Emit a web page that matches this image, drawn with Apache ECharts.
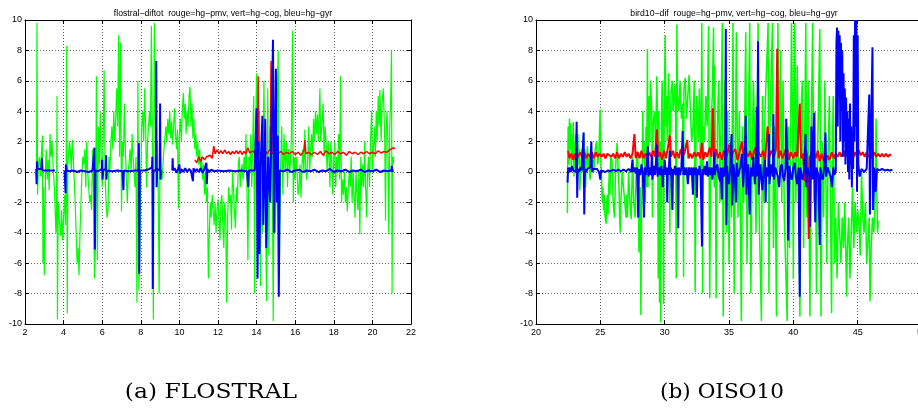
<!DOCTYPE html>
<html><head><meta charset="utf-8">
<script src="https://cdn.jsdelivr.net/npm/echarts/dist/echarts.min.js"></script>
<style>html,body{margin:0;padding:0;background:#fff}#c{width:918px;height:409px}</style>
</head><body><div id="c"></div><script>
// ---------- DATA (x = position, y = difference) ----------
const titleA = 'flostral\u2212diftot  rouge=hg\u2212pmv, vert=hg\u2212cog, bleu=hg\u2212gyr';
const titleB = 'bird10\u2212dif  rouge=hg\u2212pmv, vert=hg\u2212cog, bleu=hg\u2212gyr';
const captionA = '(a) FLOSTRAL';
const captionB = '(b) OISO10';
const xTicksA = [2, 22, 2];
const xTicksB = [20, 50, 5];
const yTicks = [-10, 10, 2];

const flostralGreen = [[2.6,0.7],[2.62,9.8],[2.65,-1.5],[2.7,0.5],[2.75,1.0],[2.8,-0.3],[2.85,1.2],[2.9,2.4],[2.93,-6.0],[2.97,-1],[3.0,-6.8],[3.03,-4],[3.07,0.5],[3.1,1.5],[3.15,-0.5],[3.2,0.8],[3.25,-1.2],[3.3,2.5],[3.35,1.0],[3.4,2.0],[3.45,0.5],[3.5,-0.5],[3.55,-2],[3.6,-4],[3.63,-2.5],[3.66,5.0],[3.68,-9.7],[3.72,-2],[3.78,-3.2],[3.85,-4.2],[3.9,-2.5],[3.95,-4.5],[4.0,-3],[4.05,-1.5],[4.1,-3.5],[4.13,-0.5],[4.16,8.3],[4.19,-9.3],[4.22,0.5],[4.3,2],[4.35,1.5],[4.4,0],[4.45,2.1],[4.5,1],[4.55,-0.5],[4.6,-2],[4.65,-4],[4.7,-6],[4.75,-5],[4.8,-6.8],[4.85,-4],[4.9,-2],[4.95,0],[5.0,1],[5.05,0.5],[5.1,1.5],[5.15,-1],[5.2,2],[5.25,0],[5.3,-1],[5.35,-2],[5.4,-1.5],[5.45,-2.5],[5.5,1.5],[5.55,-1],[5.6,-7],[5.65,-5],[5.7,6.3],[5.75,-5.8],[5.8,3],[5.85,0.5],[5.9,4],[5.95,1],[6.0,-1],[6.05,2],[6.1,6.7],[6.15,0],[6.2,-2],[6.25,-3],[6.3,-2.5],[6.35,1],[6.4,0],[6.45,2],[6.5,3],[6.55,1.5],[6.6,4],[6.65,2],[6.7,3.5],[6.75,5.5],[6.8,3],[6.85,9],[6.9,1],[6.95,8.5],[7.0,-2.6],[7.05,2],[7.1,1],[7.15,4.5],[7.2,1.5],[7.3,-2],[7.35,0],[7.45,1.5],[7.5,0],[7.55,2.5],[7.6,1],[7.7,-1],[7.75,1],[7.8,-8.6],[7.85,6],[7.9,-7.8],[7.95,-5],[8.0,0],[8.05,3],[8.1,4],[8.15,2],[8.2,5.5],[8.25,3],[8.3,-1],[8.35,2],[8.45,4],[8.5,3],[8.55,9.6],[8.6,2],[8.65,-9.7],[8.7,9.8],[8.75,4],[8.8,0],[8.85,2],[8.9,-1],[8.95,-8],[9.0,2],[9.05,0],[9.1,-0.5],[9.2,1.5],[9.3,3],[9.35,2],[9.4,3.5],[9.45,2.5],[9.5,4],[9.55,2.2],[9.6,3.3],[9.65,1.8],[9.7,3],[9.75,4.2],[9.8,2.5],[9.85,1.5],[9.9,2.8],[9.95,-2.4],[10.0,2.5],[10.05,3.5],[10.1,2],[10.15,4],[10.2,5.2],[10.25,3.5],[10.3,4.5],[10.35,2.5],[10.4,4],[10.45,3],[10.5,5],[10.55,5.6],[10.6,3],[10.65,4.5],[10.7,2.2],[10.75,3.5],[10.8,1.5],[10.85,2.5],[10.9,1],[10.95,2],[11.0,0.5],[11.05,1.5],[11.1,0],[11.15,1],[11.2,-0.5],[11.25,0.5],[11.3,-1.5],[11.35,0],[11.4,-2],[11.45,-1],[11.5,-7],[11.55,-4],[11.6,-2],[11.65,-3],[11.7,-1.5],[11.75,-2.5],[11.8,-3.5],[11.85,-2],[11.9,-4],[11.95,-2.5],[12.0,-1.8],[12.05,-3],[12.1,-4.5],[12.15,-2],[12.2,-1.5],[12.25,-3.5],[12.3,-5],[12.35,-2],[12.4,-3],[12.45,-8.6],[12.5,-3],[12.55,-1],[12.6,-2],[12.65,-1.5],[12.7,-3.8],[12.75,0],[12.8,-1],[12.85,-2.5],[12.9,-3.7],[12.95,-1],[13.0,-2],[13.05,0.5],[13.1,1],[13.15,-1],[13.2,0],[13.25,0.5],[13.3,-0.5],[13.35,1],[13.4,0],[13.45,2.5],[13.5,-1],[13.55,-5.8],[13.6,1],[13.65,0],[13.7,2.5],[13.75,-1],[13.8,2],[13.85,5],[13.9,-8],[13.95,3],[14.0,6.5],[14.05,0],[14.1,-3],[14.15,4],[14.2,-7.5],[14.25,2],[14.3,-4],[14.38,6],[14.45,-2],[14.52,-8.5],[14.58,5.5],[14.63,-5.5],[14.7,3],[14.73,-2],[14.78,7],[14.86,-9.8],[14.92,2],[14.98,-4],[15.05,4],[15.12,8],[15.18,-6],[15.24,0],[15.3,3],[15.36,-1.5],[15.42,2.5],[15.48,0],[15.55,2],[15.6,-1],[15.65,1.5],[15.72,0],[15.8,2],[15.86,9.3],[15.9,-2],[15.95,1],[16.0,-0.5],[16.05,1],[16.1,0],[16.15,-1.5],[16.2,-1],[16.25,0.5],[16.3,-1.7],[16.35,0.5],[16.4,1.5],[16.45,0],[16.5,2.8],[16.55,0],[16.6,-0.5],[16.65,1],[16.7,3],[16.75,0],[16.8,1.5],[16.85,2.5],[16.9,1],[16.95,3.5],[17.0,2],[17.05,4],[17.1,2.5],[17.15,3.8],[17.2,2],[17.28,5.5],[17.32,2],[17.38,3],[17.45,4.5],[17.5,1],[17.55,3],[17.6,2],[17.65,0],[17.7,2],[17.75,1],[17.8,-1],[17.85,2],[17.9,0.5],[17.95,-1.5],[18.0,1],[18.05,2],[18.1,-1],[18.15,1],[18.2,0],[18.25,2.5],[18.3,-0.5],[18.35,6.3],[18.4,-2],[18.45,-0.5],[18.5,-1.5],[18.55,0],[18.6,-2],[18.65,-1],[18.7,-2.6],[18.75,-1],[18.8,0],[18.85,-1],[18.9,1],[18.95,-2],[19.0,0],[19.05,-1.5],[19.1,-3],[19.15,0],[19.2,-1.5],[19.25,-2.5],[19.3,0],[19.35,-4.1],[19.4,1],[19.45,-1],[19.5,0.5],[19.55,-1],[19.6,2],[19.65,-1],[19.7,-3],[19.75,0],[19.8,1],[19.85,-1],[19.9,2],[19.96,4],[20.0,0],[20.05,1.5],[20.1,3],[20.15,1],[20.2,4],[20.25,2],[20.3,5],[20.35,3],[20.39,5.4],[20.45,2],[20.5,4.5],[20.56,5.5],[20.6,4],[20.64,2],[20.68,-3.2],[20.72,3],[20.76,4],[20.8,2],[20.85,-4.1],[20.9,3],[20.95,5],[20.99,8],[21.02,-8],[21.05,1],[21.08,0.5],[21.1,1]];

const flostralRed = [[10.8,0.8],[10.9,0.6],[11.0,1.0],[11.1,0.7],[11.2,1.0],[11.3,0.8],[11.4,1.0],[11.5,0.9],[11.6,1.1],[11.7,0.9],[11.78,1.7],[11.85,1.2],[11.95,1.45],[12.05,1.2],[12.15,1.4],[12.25,1.2],[12.35,1.45],[12.45,1.2],[12.55,1.35],[12.65,1.15],[12.75,1.35],[12.85,1.2],[12.95,1.4],[13.05,1.2],[13.15,1.4],[13.25,1.15],[13.35,1.35],[13.45,1.2],[13.55,1.6],[13.65,1.25],[13.8,1.4],[13.95,1.2],[14.05,1.4],[14.08,6.3],[14.12,1.3],[14.25,1.2],[14.4,1.45],[14.55,1.2],[14.7,1.5],[14.75,7.3],[14.8,1.2],[14.95,1.4],[15.1,1.2],[15.25,1.35],[15.4,1.15],[15.55,1.3],[15.7,1.2],[15.85,1.35],[16.0,1.15],[16.15,1.3],[16.3,1.1],[16.45,1.4],[16.5,2.1],[16.55,1.2],[16.7,1.3],[16.85,1.15],[17.0,1.3],[17.15,1.15],[17.3,1.35],[17.45,1.1],[17.6,1.4],[17.75,1.2],[17.9,1.3],[18.05,1.15],[18.2,1.35],[18.35,1.2],[18.5,1.3],[18.65,1.1],[18.8,1.35],[18.95,1.2],[19.1,1.3],[19.25,1.15],[19.4,1.3],[19.55,1.2],[19.7,1.35],[19.85,1.2],[20.0,1.3],[20.15,1.2],[20.3,1.4],[20.45,1.25],[20.6,1.35],[20.75,1.3],[20.9,1.45],[21.0,1.4],[21.1,1.6],[21.15,1.5]];

const flostralBlue = [[2.58,0.2],[2.6,-0.8],[2.62,0.7],[2.65,0.2],[2.75,0.1],[2.85,0.2],[2.88,0.9],[2.9,0.1],[3.0,0.2],[3.1,0.1],[3.2,0.15],[3.3,0.1],[3.4,0.15],[3.55,0.1],[3.56,null],[4.05,0.1],[4.1,-1.4],[4.12,0.5],[4.15,0.1],[4.3,0.05],[4.5,0.1],[4.7,0.0],[4.9,0.1],[5.1,0.05],[5.3,0.0],[5.5,0.1],[5.58,0.2],[5.6,1.6],[5.62,-5.1],[5.65,0.1],[5.8,0.05],[5.98,0.2],[6.0,0.8],[6.02,-0.5],[6.05,0.1],[6.18,0.2],[6.2,1.1],[6.22,-0.5],[6.25,0.1],[6.5,0.05],[6.8,0.1],[7.05,0.05],[7.1,-1.2],[7.12,0.1],[7.4,0.05],[7.7,0.1],[7.88,0.1],[7.9,1.9],[7.92,-6.7],[7.95,0.1],[8.2,0.1],[8.45,0.2],[8.58,0.3],[8.6,1.0],[8.62,-7.7],[8.65,0.1],[8.78,0.1],[8.8,7.3],[8.82,-1.0],[8.85,0.2],[8.98,0.1],[9.0,4.5],[9.02,-0.5],[9.05,0.1],[9.06,null],[9.63,0.1],[9.65,0.9],[9.67,0.1],[9.75,0.25],[9.85,-0.05],[9.95,0.25],[10.0,0.5],[10.03,-0.1],[10.1,0.2],[10.2,0.0],[10.3,0.25],[10.4,0.0],[10.5,0.2],[10.6,0.05],[10.7,-0.6],[10.73,0.25],[10.8,0.0],[10.9,0.2],[11.0,0.0],[11.1,0.25],[11.2,-0.05],[11.3,0.2],[11.4,0.6],[11.42,-0.8],[11.45,0.2],[11.55,0.0],[11.65,0.15],[11.8,0.05],[12.0,0.1],[12.3,0.05],[12.6,0.1],[12.9,0.05],[13.2,0.1],[13.5,0.05],[13.57,-1.0],[13.6,0.1],[13.9,0.1],[14.0,4.2],[14.05,-7.0],[14.1,2],[14.15,-5.4],[14.2,0],[14.3,3.7],[14.35,-3.5],[14.45,3.5],[14.5,-5],[14.6,1],[14.7,-2],[14.85,8.7],[14.9,-4],[15.0,6.8],[15.05,-2],[15.1,2.4],[15.15,-8.2],[15.2,0.1],[15.4,0.05],[15.6,0.15],[15.8,0.0],[16.0,0.1],[16.2,0.15],[16.4,0.0],[16.6,0.1],[16.8,0.05],[17.0,0.15],[17.2,0.0],[17.4,0.1],[17.6,0.05],[17.8,0.2],[18.0,0.0],[18.2,0.1],[18.4,0.05],[18.6,0.15],[18.8,0.0],[19.0,0.1],[19.2,0.05],[19.4,0.15],[19.6,0.0],[19.8,0.1],[20.0,0.05],[20.2,0.15],[20.4,0.0],[20.6,0.1],[20.8,0.05],[20.98,0.1],[21.0,0.4],[21.02,0.05],[21.1,0.1]];

const oisoGreen = [[22.44,-2.7],[22.47,1],[22.5,3],[22.55,0.5],[22.6,3.5],[22.65,1.5],[22.7,3.2],[22.75,0],[22.8,2.5],[22.85,1],[22.9,3.3],[22.95,-0.3],[23.0,2],[23.05,0.5],[23.1,2.5],[23.15,-0.5],[23.2,1],[23.25,2.5],[23.3,0.5],[23.35,1.5],[23.4,-1.2],[23.5,0.5],[23.55,1.5],[23.6,0],[23.7,2.6],[23.75,0],[23.8,1.5],[23.85,-1],[23.9,0.5],[24.0,1.7],[24.05,0.2],[24.1,1],[24.2,-0.5],[24.3,0.5],[24.4,1.2],[24.5,0],[24.6,1.5],[24.7,2],[24.8,0.5],[24.9,1.5],[24.98,4.1],[25.05,0.5],[25.1,-0.5],[25.15,-2],[25.2,-1],[25.25,-2.5],[25.3,-1.5],[25.35,-2.8],[25.45,-3.4],[25.5,-2],[25.55,-1.5],[25.6,-2.8],[25.65,-1],[25.7,0],[25.75,-1.5],[25.8,1],[25.9,0.8],[26.0,-2],[26.1,-3],[26.2,0.5],[26.3,1.9],[26.4,2],[26.45,-1],[26.5,-3],[26.55,-4],[26.6,-2],[26.7,0],[26.8,-1],[26.9,-2],[27.0,-3],[27.05,-1.5],[27.1,-3],[27.2,0],[27.3,-2],[27.4,-3.1],[27.5,1],[27.6,-2],[27.7,-3],[27.8,0.5],[27.9,1.4],[27.95,-1],[28.0,-5.3],[28.05,-3],[28.1,-1],[28.15,-9.4],[28.2,-3],[28.25,-1],[28.3,4],[28.35,1],[28.4,2],[28.5,-2],[28.55,3],[28.6,-1],[28.66,8.1],[28.7,-1],[28.75,3.5],[28.8,5],[28.85,2],[28.9,6],[29.0,4],[29.05,-3],[29.1,3],[29.2,4],[29.3,2],[29.39,6.3],[29.45,3],[29.5,-7],[29.55,4],[29.6,-8.6],[29.65,2],[29.7,-9.9],[29.75,3],[29.8,6],[29.85,4],[29.91,-8.7],[29.95,2],[30.04,9],[30.1,3],[30.15,5],[30.2,2],[30.3,6.5],[30.35,4],[30.4,-4],[30.45,3],[30.5,5.3],[30.6,6],[30.65,4],[30.7,4.5],[30.8,5.8],[30.85,3.5],[30.9,-7],[30.95,9.7],[31.0,5],[31.1,4],[31.2,6],[31.3,3.5],[31.4,4.5],[31.47,-6.9],[31.5,5.5],[31.6,6.2],[31.7,3.5],[31.8,5],[31.9,6.4],[32.0,4],[32.1,2],[32.2,3],[32.3,6],[32.37,-7.9],[32.45,4],[32.5,5],[32.6,2],[32.7,5.5],[32.8,-1],[32.89,9.8],[32.95,-8],[33.0,3],[33.1,2],[33.2,5],[33.3,3],[33.41,9.6],[33.5,-8.3],[33.6,3],[33.7,5],[33.8,9.5],[33.85,-1],[33.9,7],[34.0,-8.3],[34.1,3],[34.2,6],[34.3,-2],[34.48,9.8],[34.55,-9.5],[34.6,-1],[34.7,6],[34.8,-4],[34.9,4],[35.0,-6],[35.1,2],[35.2,-3],[35.31,9.8],[35.4,-8],[35.45,-4],[35.5,2],[35.57,9.2],[35.7,-3],[35.8,4],[35.96,-9.8],[36.05,3],[36.15,-2],[36.3,9.2],[36.4,-6],[36.5,3],[36.61,9.8],[36.7,-8],[36.8,1],[36.9,6],[37.0,2],[37.1,-4],[37.26,9.8],[37.35,-3],[37.52,-9.8],[37.6,5],[37.7,-2],[37.8,4],[38.04,9.8],[38.1,-8],[38.2,4],[38.38,9.8],[38.45,-5],[38.55,3],[38.69,-9.5],[38.8,9.8],[38.9,0],[39.0,8],[39.1,-2],[39.2,6],[39.3,-3],[39.52,-9.8],[39.6,3],[39.7,-5],[39.86,9.8],[39.95,2],[40.0,-7],[40.05,4],[40.12,9.8],[40.2,-2],[40.3,7],[40.4,0],[40.51,-9.5],[40.6,4],[40.7,6],[40.8,-5],[40.97,9.8],[41.05,-3],[41.15,6],[41.29,-9.5],[41.4,3],[41.5,9.8],[41.6,-2],[41.7,4],[41.8,-8],[41.9,2],[42.06,9.4],[42.15,-9.5],[42.25,2],[42.35,-3],[42.45,6],[42.6,-6],[42.7,1],[42.8,5],[42.97,-9.3],[43.05,2],[43.1,5],[43.2,-6],[43.3,-3],[43.4,-7],[43.5,-2],[43.6,-4],[43.7,-6],[43.8,-3],[43.9,-5],[44.0,-2],[44.14,-8.2],[44.2,-5],[44.3,-3],[44.4,-7],[44.5,-4],[44.6,-1],[44.7,-5],[44.8,-2],[44.9,-4],[45.0,-2.5],[45.1,-3.5],[45.2,-5.5],[45.3,0],[45.4,-3],[45.5,-4],[45.6,-2],[45.7,-6],[45.8,-4.5],[45.9,-3],[45.96,-8.5],[46.05,-5],[46.15,-3],[46.25,-4],[46.35,-2],[46.43,3.5],[46.5,-2],[46.55,-4],[46.6,-3.2]];

const oisoRed = [[22.5,1.4],[22.6,0.9],[22.75,1.2],[22.9,0.8],[23.0,1.2],[23.15,0.8],[23.3,1.1],[23.45,1.3],[23.6,0.9],[23.75,1.3],[23.9,0.9],[24.05,1.2],[24.2,1.0],[24.35,1.3],[24.5,0.9],[24.65,1.3],[24.8,1.0],[24.95,1.2],[25.1,1.0],[25.25,1.2],[25.4,0.9],[25.55,1.2],[25.7,1.1],[25.85,1.0],[26.0,1.2],[26.15,0.9],[26.3,1.3],[26.45,0.9],[26.6,1.2],[26.75,1.0],[26.9,1.3],[27.05,1.0],[27.2,1.2],[27.35,0.9],[27.5,1.2],[27.65,2.5],[27.75,0.9],[27.9,1.3],[28.05,0.9],[28.2,1.4],[28.35,0.9],[28.5,1.2],[28.65,0.9],[28.8,1.3],[28.95,1.0],[29.1,1.4],[29.25,1.0],[29.39,2.8],[29.5,1.0],[29.65,1.3],[29.8,0.8],[29.95,1.4],[30.1,0.9],[30.25,1.6],[30.4,2.4],[30.5,1.0],[30.65,1.4],[30.8,0.9],[30.95,1.3],[31.1,0.9],[31.25,1.5],[31.4,1.0],[31.55,1.3],[31.75,2.1],[31.85,0.9],[32.0,1.2],[32.15,0.9],[32.3,1.3],[32.45,1.0],[32.6,1.3],[32.75,0.9],[32.9,1.9],[33.0,0.8],[33.15,1.3],[33.3,1.0],[33.5,1.6],[33.65,1.0],[33.75,4.2],[33.85,0.7],[34.0,1.5],[34.15,0.9],[34.3,1.3],[34.45,0.8],[34.6,1.4],[34.75,0.8],[34.9,1.3],[35.0,1.8],[35.15,0.9],[35.3,1.3],[35.5,1.5],[35.65,0.8],[35.8,1.2],[36.0,2.0],[36.15,0.9],[36.3,1.4],[36.5,1.0],[36.65,1.4],[36.8,0.8],[37.0,1.6],[37.15,0.9],[37.3,1.3],[37.5,1.0],[37.65,1.4],[37.8,0.7],[38.0,3.0],[38.15,1.0],[38.3,1.4],[38.5,1.0],[38.65,1.5],[38.75,8.1],[38.85,0.9],[39.0,1.4],[39.15,0.9],[39.3,1.2],[39.5,1.7],[39.65,0.8],[39.8,1.3],[40.0,0.9],[40.15,1.3],[40.3,1.0],[40.5,4.5],[40.6,0.9],[40.75,1.2],[40.9,-0.6],[41.0,1.4],[41.1,0.9],[41.2,-4.4],[41.3,1.1],[41.45,0.8],[41.6,1.3],[41.75,0.9],[41.9,1.4],[42.05,0.7],[42.2,1.2],[42.35,0.8],[42.5,0.6],[42.65,1.1],[42.8,0.8],[43.0,1.3],[43.15,0.9],[43.3,1.2],[43.45,1.0],[43.6,1.3],[43.75,1.0],[43.9,1.4],[44.05,1.0],[44.2,1.3],[44.35,1.0],[44.5,1.2],[44.65,0.9],[44.8,1.3],[44.95,1.0],[45.1,1.4],[45.25,1.1],[45.4,1.3],[45.55,1.0],[45.7,1.3],[45.85,1.0],[46.0,1.2],[46.15,0.9],[46.3,1.3],[46.45,1.0],[46.6,1.2],[46.75,1.0],[46.9,1.2],[47.05,1.0],[47.2,1.2],[47.35,1.0],[47.5,1.15],[47.6,1.1]];

const oisoBlue = [[22.45,-0.7],[22.5,0.3],[22.55,0.0],[22.6,0.3],[22.7,0.0],[22.8,0.4],[22.9,0.1],[23.0,0.2],[23.1,0.0],[23.16,3.3],[23.2,-1.7],[23.25,0.2],[23.35,0.0],[23.45,0.3],[23.55,0.1],[23.65,0.2],[23.7,2.6],[23.75,-2.8],[23.8,0.2],[23.9,0.0],[24.0,0.2],[24.1,0.1],[24.2,0.3],[24.3,2.0],[24.35,0.0],[24.45,0.2],[24.6,0.1],[24.75,0.2],[24.9,0.0],[25.0,-0.5],[25.05,0.1],[25.2,0.15],[25.4,0.0],[25.6,0.1],[25.8,0.05],[26.0,0.15],[26.2,0.05],[26.4,0.15],[26.6,0.05],[26.8,0.15],[27.0,0.05],[27.2,0.2],[27.4,0.0],[27.5,0.8],[27.55,0.0],[27.65,0.3],[27.75,-0.1],[27.85,0.3],[27.95,-3.0],[28.0,0.2],[28.1,-0.2],[28.2,0.5],[28.3,-0.1],[28.4,-3.0],[28.45,0.3],[28.55,-0.2],[28.6,0.3],[28.7,1.7],[28.75,-0.3],[28.85,0.3],[28.95,-0.2],[29.0,1.1],[29.05,-0.5],[29.15,0.4],[29.25,-0.2],[29.3,0.3],[29.39,1.8],[29.45,-0.3],[29.55,0.3],[29.65,-0.2],[29.75,0.4],[29.85,-1.0],[29.9,0.2],[29.95,-0.2],[30.0,0.8],[30.1,-0.2],[30.15,0.3],[30.2,-2.0],[30.25,0.3],[30.3,-0.2],[30.4,1.4],[30.45,-0.2],[30.5,0.3],[30.6,-2.5],[30.65,0.2],[30.7,-0.2],[30.8,0.4],[30.9,-0.2],[31.0,0.3],[31.05,-3.7],[31.1,0.3],[31.2,-0.2],[31.3,0.3],[31.4,2.7],[31.45,-0.2],[31.5,0.3],[31.6,-0.2],[31.7,0.3],[31.8,-0.8],[31.9,0.3],[32.0,-0.2],[32.1,0.3],[32.2,-1.5],[32.25,0.3],[32.35,-0.2],[32.45,0.3],[32.5,-1.7],[32.55,0.2],[32.65,-0.2],[32.7,0.4],[32.8,-0.2],[32.9,-4.9],[32.95,0.2],[33.0,-0.2],[33.1,0.4],[33.2,-0.2],[33.3,0.7],[33.35,-0.3],[33.45,0.3],[33.55,-0.2],[33.65,0.3],[33.7,-0.5],[33.8,0.2],[33.85,1.3],[33.9,-0.2],[34.0,0.3],[34.1,0.5],[34.2,-0.3],[34.3,-0.6],[34.35,0.3],[34.45,-1.8],[34.5,0.3],[34.6,-0.3],[34.7,0.4],[34.75,9.4],[34.8,-3.5],[34.85,0.4],[34.9,-0.3],[35.0,-0.8],[35.1,0.4],[35.2,2.5],[35.25,-2.2],[35.35,0.5],[35.45,-0.3],[35.55,-2.0],[35.6,0.6],[35.7,-0.3],[35.8,-0.4],[35.9,0.4],[36.0,1.2],[36.1,-1.0],[36.2,0.4],[36.3,3.7],[36.35,-1.5],[36.45,0.3],[36.5,0.5],[36.6,-2.8],[36.7,0.3],[36.8,-0.3],[36.9,1.0],[37.0,-0.8],[37.1,0.4],[37.15,4.3],[37.2,-0.3],[37.26,8.6],[37.3,-1.5],[37.4,0.3],[37.45,0.5],[37.5,-0.3],[37.6,-1.2],[37.7,0.3],[37.8,0.8],[37.85,-2.0],[37.9,0.3],[38.0,0.4],[38.05,-0.3],[38.1,2.5],[38.15,-0.8],[38.25,0.3],[38.3,0.5],[38.4,-0.3],[38.45,3.8],[38.5,-0.5],[38.6,0.3],[38.7,0.3],[38.8,-0.3],[38.9,-1.0],[39.0,0.3],[39.1,0.5],[39.2,-0.3],[39.3,-0.6],[39.4,0.3],[39.45,3.5],[39.55,0.2],[39.6,-4.5],[39.7,0.4],[39.8,-0.3],[39.9,-0.5],[40.0,0.3],[40.1,0.6],[40.2,-0.3],[40.3,-0.8],[40.4,0.3],[40.5,-8.2],[40.55,0.3],[40.65,-0.3],[40.75,-0.5],[40.85,0.3],[40.95,2.5],[41.0,-1.0],[41.1,0.3],[41.2,0.3],[41.25,-0.3],[41.3,-3.6],[41.4,3.0],[41.5,-0.5],[41.6,3.9],[41.7,-3.3],[41.8,0.3],[41.85,0.4],[41.95,-0.3],[42.05,-4.8],[42.1,0.3],[42.2,-0.3],[42.3,-0.5],[42.4,0.3],[42.5,2.6],[42.55,-0.3],[42.65,0.3],[42.8,0.4],[42.9,-0.3],[43.0,-1.0],[43.1,0.3],[43.2,-0.2],[43.3,0.1],[43.35,8.5],[43.4,9.5],[43.45,3],[43.5,9.3],[43.55,5],[43.6,9.0],[43.65,2],[43.7,8.5],[43.75,4],[43.8,8.0],[43.85,1],[43.9,6.5],[43.95,2],[44.0,5.5],[44.05,0.5],[44.1,4.9],[44.15,1],[44.2,4.0],[44.25,0],[44.3,3.5],[44.35,-0.5],[44.4,4.5],[44.45,0.5],[44.5,3.0],[44.55,-1],[44.6,2.5],[44.65,0.2],[44.7,9.0],[44.75,2],[44.8,10],[44.85,3],[44.9,10],[44.95,-1.3],[45.0,9],[45.05,0.5],[45.15,-0.3],[45.3,0.2],[45.5,0.0],[45.7,0.2],[45.85,0.1],[45.9,5.1],[45.95,-2.8],[46.0,0.3],[46.15,8.2],[46.2,-2.5],[46.3,0.3],[46.4,-1.3],[46.5,0.2],[46.7,0.1],[46.9,0.2],[47.1,0.1],[47.3,0.15],[47.5,0.1],[47.7,0.15]];

// ---------- CHART ----------
const chart = echarts.init(document.getElementById('c'), null, {renderer: 'canvas'});
const FONT = '"Liberation Sans", Arial, sans-serif';
const gridA = {left: 25, top: 20, width: 386, height: 304, outerBoundsMode: 'none', containLabel: false};
const gridB = {left: 536, top: 20, width: 386, height: 304, outerBoundsMode: 'none', containLabel: false};

function xAx(gi, t, labels, pos) {
  return {
    type: 'value', gridIndex: gi, min: t[0], max: t[1], interval: t[2], position: pos,
    axisLine: {show: true, onZero: false, lineStyle: {color: '#000', width: 1}},
    axisTick: {show: true, inside: true, length: 4, lineStyle: {color: '#000'}},
    axisLabel: {show: labels, color: '#000', fontSize: 9, fontFamily: FONT, margin: 4,
      showMinLabel: true, showMaxLabel: true, hideOverlap: false},
    splitLine: {show: labels, lineStyle: {color: '#666', type: [1, 2], width: 1}}
  };
}
function yAx(gi, t, labels, pos) {
  return {
    type: 'value', gridIndex: gi, min: t[0], max: t[1], interval: t[2], position: pos,
    axisLine: {show: true, onZero: false, lineStyle: {color: '#000', width: 1}},
    axisTick: {show: true, inside: true, length: 4, lineStyle: {color: '#000'}},
    axisLabel: {show: labels, color: '#000', fontSize: 9, fontFamily: FONT, margin: 3},
    splitLine: {show: labels, lineStyle: {color: '#666', type: [1, 2], width: 1}}
  };
}
function ln(data, color, width, xi, yi) {
  return {type: 'line', data: data, xAxisIndex: xi, yAxisIndex: yi, symbol: 'none',
    showSymbol: false, connectNulls: false, clip: true, animation: false,
    lineStyle: {color: color, width: width}, itemStyle: {color: color}};
}

chart.setOption({
  animation: false,
  backgroundColor: '#fff',
  title: [
    {text: titleA, left: 218, top: 4, textAlign: 'center',
     textStyle: {fontSize: 8.7, fontWeight: 'normal', color: '#000', fontFamily: FONT}},
    {text: titleB, left: 729, top: 4, textAlign: 'center',
     textStyle: {fontSize: 8.7, fontWeight: 'normal', color: '#000', fontFamily: FONT}}
  ],
  grid: [gridA, gridB],
  xAxis: [xAx(0, xTicksA, true, 'bottom'), xAx(0, xTicksA, false, 'top'),
          xAx(1, xTicksB, true, 'bottom'), xAx(1, xTicksB, false, 'top')],
  yAxis: [yAx(0, yTicks, true, 'left'), yAx(0, yTicks, false, 'right'),
          yAx(1, yTicks, true, 'left'), yAx(1, yTicks, false, 'right')],
  series: [
    ln(flostralGreen, '#00ff00', 1.2, 0, 0),
    ln(flostralRed, '#ff0000', 1.5, 0, 0),
    ln(flostralBlue, '#0000ff', 2, 0, 0),
    ln(oisoGreen, '#00ff00', 1.5, 2, 2),
    ln(oisoRed, '#ff0000', 2, 2, 2),
    ln(oisoBlue, '#0000ff', 2, 2, 2)
  ],
  graphic: [
    {type: 'text', x: 211, y: 393, scaleX: 1.17, style: {text: captionA, font: '20px "DejaVu Serif", serif',
      fill: '#000', align: 'center', verticalAlign: 'middle', textAlign: 'center', textVerticalAlign: 'middle'}},
    {type: 'text', x: 722, y: 393, scaleX: 1.08, style: {text: captionB, font: '20px "DejaVu Serif", serif',
      fill: '#000', align: 'center', verticalAlign: 'middle', textAlign: 'center', textVerticalAlign: 'middle'}}
  ]
});
</script></body></html>
